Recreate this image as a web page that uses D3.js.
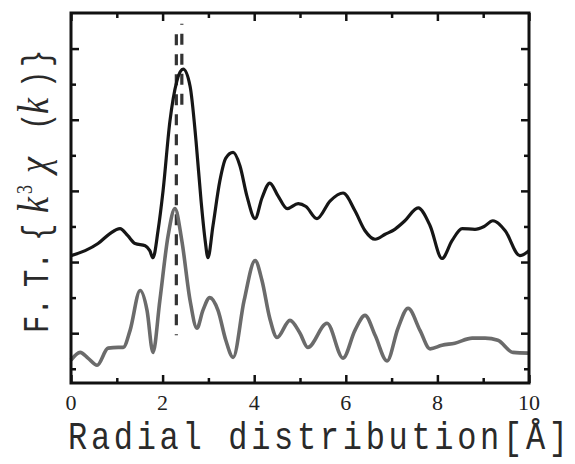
<!DOCTYPE html>
<html>
<head>
<meta charset="utf-8">
<script src="https://cdn.jsdelivr.net/npm/d3@7"></script>
<style>
  body { margin: 0; background: #fff; }
  svg { display: block; }
</style>
</head>
<body>
<svg id="chart" width="575" height="464"></svg>
<script>
// upper (black) spectrum
const blackR  = [0, 0.31, 0.59, 0.85, 1.07, 1.24, 1.40, 1.62, 1.72, 1.79, 1.90, 2.01, 2.16, 2.31, 2.45, 2.60, 2.73, 2.84, 2.93, 2.99,
                 3.10, 3.25, 3.38, 3.54, 3.69, 3.84, 4.02, 4.17, 4.34, 4.52, 4.72, 4.96, 5.13, 5.37, 5.66, 5.94, 6.20, 6.42, 6.64,
                 6.86, 7.07, 7.29, 7.58, 7.84, 8.10, 8.32, 8.54, 8.82, 9.02, 9.21, 9.48, 9.80, 10];
const blackFT = [1.09, 1.16, 1.26, 1.40, 1.47, 1.37, 1.26, 1.23, 1.16, 1.06, 1.44, 2.00, 2.98, 3.54, 3.71, 3.47, 2.70, 1.86, 1.30, 1.06,
                 1.51, 2.14, 2.46, 2.54, 2.35, 1.93, 1.61, 1.90, 2.11, 1.93, 1.75, 1.82, 1.78, 1.61, 1.86, 1.97, 1.72, 1.44, 1.32,
                 1.39, 1.46, 1.58, 1.76, 1.51, 1.05, 1.30, 1.47, 1.46, 1.50, 1.58, 1.44, 1.09, 1.16];

// lower (grey) spectrum
const grayR  = [0, 0.20, 0.37, 0.57, 0.81, 1.03, 1.14, 1.29, 1.51, 1.66, 1.79, 1.94, 2.12, 2.27, 2.42, 2.60, 2.75, 2.88, 3.03, 3.21,
                3.38, 3.54, 3.78, 4.02, 4.17, 4.34, 4.50, 4.78, 5.00, 5.17, 5.59, 5.94, 6.20, 6.42, 6.64, 6.90, 7.14, 7.36, 7.62,
                7.84, 8.10, 8.38, 8.76, 9.04, 9.32, 9.65, 10];
const grayFT = [-0.38, -0.27, -0.35, -0.45, -0.21, -0.20, -0.20, 0.04, 0.60, 0.32, -0.27, 0.46, 1.37, 1.75, 1.30, 0.46, 0.07, 0.32, 0.50, 0.32,
                -0.10, -0.34, 0.46, 1.02, 0.74, 0.21, -0.06, 0.18, 0.00, -0.20, 0.14, -0.35, 0.04, 0.25, -0.03, -0.39, 0.07, 0.35, 0.04,
                -0.22, -0.17, -0.14, -0.07, -0.07, -0.10, -0.27, -0.28];

// dashed marker lines: x, top, bottom
const dashR   = [2.42, 2.30];
const dashTop = [4.35, 4.20];
const dashBot = [3.10, -0.03];

const xTicks = [0, 2, 4, 6, 8, 10];

const svg = d3.select("#chart"),
      m   = {top: 13, right: 46, bottom: 81, left: 71},
      W   = +svg.attr("width"),
      H   = +svg.attr("height"),
      iw  = W - m.left - m.right,
      ih  = H - m.top - m.bottom;

const x = d3.scaleLinear().domain([0, 10]).range([0, iw]);
const y = d3.scaleLinear().domain([-0.7, 4.5]).range([ih, 0]);

const g = svg.append("g").attr("transform", `translate(${m.left},${m.top})`);

// ticks, inward on all four sides
const xMinor = d3.range(1, 10, 2), yMajor = d3.range(0, 5), yMinor = [-0.5, 0.5, 1.5, 2.5, 3.5];
const noDomain = sel => sel.selectAll("path").remove();

function ticks(axis, vals, size, tr) {
  g.append("g").attr("transform", tr || null)
    .call(axis.tickValues(vals).tickSizeInner(-size).tickSizeOuter(0).tickFormat(""))
    .call(noDomain);
}
ticks(d3.axisBottom(x), xTicks, 8, `translate(0,${ih})`);
ticks(d3.axisBottom(x), xMinor, 5, `translate(0,${ih})`);
ticks(d3.axisTop(x), xTicks, 8);
ticks(d3.axisTop(x), xMinor, 5);
ticks(d3.axisLeft(y), yMajor, 8);
ticks(d3.axisLeft(y), yMinor, 5);
ticks(d3.axisRight(y), yMajor, 8, `translate(${iw},0)`);
ticks(d3.axisRight(y), yMinor, 5, `translate(${iw},0)`);
g.selectAll(".tick line").attr("stroke", "#111").attr("stroke-width", 2.5);

// x tick labels
g.append("g").selectAll("text")
  .data(xTicks).enter().append("text")
    .attr("x", d => x(d))
    .attr("y", ih + 27)
    .attr("text-anchor", "middle")
    .attr("font-family", "Liberation Serif, serif")
    .attr("font-size", 22)
    .attr("fill", "#222")
    .text(d => d);

// dashed lines
g.append("g").selectAll("line")
  .data(dashR).enter().append("line")
    .attr("x1", d => x(d)).attr("x2", d => x(d))
    .attr("y1", (d, i) => y(dashTop[i]))
    .attr("y2", (d, i) => y(dashBot[i]))
    .attr("stroke", "#333")
    .attr("stroke-width", 3.2)
    .attr("stroke-dasharray", "11,9")
    .attr("stroke-dashoffset", (d, i) => i ? 0 : 10);

const line = d3.line().curve(d3.curveMonotoneX);

g.append("path")
  .attr("d", line(grayR.map((r, i) => [x(r), y(grayFT[i])])))
  .attr("fill", "none")
  .attr("stroke", "#6b6b6b")
  .attr("stroke-width", 3.6)
  .attr("stroke-linejoin", "round");

g.append("path")
  .attr("d", line(blackR.map((r, i) => [x(r), y(blackFT[i])])))
  .attr("fill", "none")
  .attr("stroke", "#161616")
  .attr("stroke-width", 3.2)
  .attr("stroke-linejoin", "round");

// frame
g.append("rect")
  .attr("width", iw).attr("height", ih)
  .attr("fill", "none")
  .attr("stroke", "#111")
  .attr("stroke-width", 3);

// x axis title (tall narrow gothic look)
svg.append("text")
  .attr("transform", "translate(68,449) scale(1,1.22)")
  .attr("font-family", "Liberation Mono, monospace")
  .attr("font-size", 32)
  .attr("textLength", 500)
  .attr("lengthAdjust", "spacing")
  .attr("fill", "#2a2a2a")
  .text("Radial distribution[Å]");

// y axis title
const yt = svg.append("text")
  .attr("transform", "translate(48,333) rotate(-90) scale(1,1.25)")
  .attr("font-family", "Liberation Mono, monospace")
  .attr("font-size", 29)
  .attr("fill", "#2a2a2a");
const serif = "Liberation Serif, serif";
yt.append("tspan").attr("x", 0).text("F.");
yt.append("tspan").attr("x", 46).text("T.");
yt.append("tspan").attr("x", 92).text("{");
yt.append("tspan").attr("x", 120).attr("font-family", serif).attr("font-style", "italic").attr("font-size", 36).text("k");
yt.append("tspan").attr("x", 139).attr("font-family", serif).attr("font-size", 18).attr("dy", -13).text("3");
yt.append("tspan").attr("x", 160).attr("font-family", serif).attr("font-style", "italic").attr("font-size", 36).attr("dy", 13).text("χ");
yt.append("tspan").attr("x", 203).text("(");
yt.append("tspan").attr("x", 219).attr("font-family", serif).attr("font-style", "italic").attr("font-size", 36).text("k");
yt.append("tspan").attr("x", 245).text(")");
yt.append("tspan").attr("x", 266).text("}");
</script>
</body>
</html>
